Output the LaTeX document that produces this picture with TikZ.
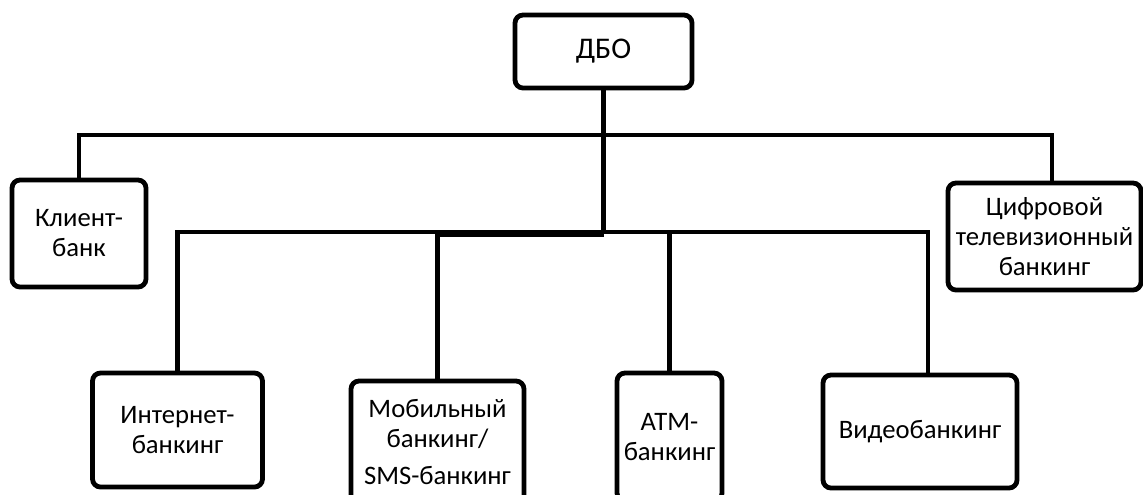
\documentclass[tikz,border=0pt]{standalone}
\usepackage{fontspec}
\setmainfont{Carlito}
\begin{document}
\begin{tikzpicture}[x=0.75pt,y=-0.75pt,
  box/.style={draw,line width=3.6pt,rounded corners=6pt,align=center,inner sep=0pt,
    font=\fontsize{20}{22.5}\selectfont},
  conn/.style={line width=3.3pt}]
\useasboundingbox (0,0) rectangle (1143,494);
\clip (0,0) rectangle (1143,494);
% boxes (x,y of centre; sizes in px)
\node[box,minimum width=177*0.75pt,minimum height=73*0.75pt,font=\fontsize{22.5}{24}\selectfont] (dbo) at (603.5,51.5) {ДБО};
\node[box,minimum width=134*0.75pt,minimum height=107*0.75pt] (klient) at (79,233.5) {Клиент-\\банк};
\node[box,minimum width=193*0.75pt,minimum height=107*0.75pt] (cifr) at (1044.5,236.5) {Цифровой\\телевизионный\\банкинг};
\node[box,minimum width=170*0.75pt,minimum height=114*0.75pt] (inet) at (177.5,430) {Интернет-\\банкинг};
\node[box,minimum width=173*0.75pt,minimum height=122*0.75pt] (mob) at (437.5,442) {Мобильный\\банкинг/\\[5pt]SMS-банкинг};
\node[box,minimum width=105*0.75pt,minimum height=128*0.75pt] (atm) at (669.5,437) {АТМ-\\банкинг};
\node[box,minimum width=194*0.75pt,minimum height=113*0.75pt] (video) at (920,431.5) {Видеобанкинг};
% junctions
\coordinate (u1) at (79,135);
\coordinate (u2) at (1052,135);
\coordinate (h) at (603.5,232);
\coordinate (vt) at (928,232);
\coordinate (vb) at (928,376);
% connectors
\draw[conn] (dbo.south) -- (h);
\draw[conn] (klient.north) -- (u1) -- (u2) -- (u2 |- cifr.north);
\draw[conn] (inet.north) |- (h);
\draw[conn] (h) -- (vt) -- (vb);
\draw[conn] (mob.north) -- (mob.north |- h);
\draw[conn] (atm.north) -- (atm.north |- h);
\draw[line width=5pt] ([yshift=-1.5pt]mob.north |- h) -- ([yshift=-1.5pt]h);
\end{tikzpicture}
\end{document}
